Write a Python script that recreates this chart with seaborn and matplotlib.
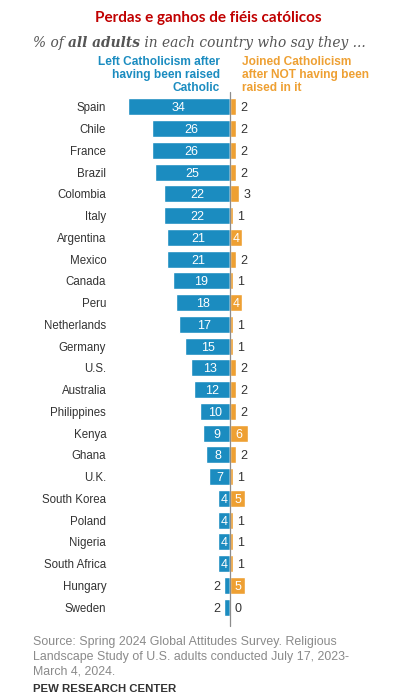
import matplotlib
matplotlib.use("Agg")
import matplotlib.pyplot as plt
import seaborn as sns
import pandas as pd

# ---- data -------------------------------------------------
countries = ["Spain", "Chile", "France", "Brazil", "Colombia", "Italy",
             "Argentina", "Mexico", "Canada", "Peru", "Netherlands",
             "Germany", "U.S.", "Australia", "Philippines", "Kenya",
             "Ghana", "U.K.", "South Korea", "Poland", "Nigeria",
             "South Africa", "Hungary", "Sweden"]
left_pct = [34, 26, 26, 25, 22, 22, 21, 21, 19, 18, 17, 15, 13, 12, 10,
            9, 8, 7, 4, 4, 4, 4, 2, 2]
joined_pct = [2, 2, 2, 2, 3, 1, 4, 2, 1, 4, 1, 1, 2, 2, 2, 6, 2, 1, 5, 1,
              1, 1, 5, 0]

title = "Perdas e ganhos de fiéis católicos"
left_label = "Left Catholicism after\nhaving been raised\nCatholic"
joined_label = "Joined Catholicism\nafter NOT having been\nraised in it"
source = ("Source: Spring 2024 Global Attitudes Survey. Religious\n"
          "Landscape Study of U.S. adults conducted July 17, 2023-\n"
          "March 4, 2024.")

df = pd.DataFrame({"country": countries,
                   "left": [-v for v in left_pct],
                   "joined": joined_pct})

BLUE = "#1b8cc0"
ORANGE = "#eea033"
DARK = "#333333"

W, H = 397, 697
fig = plt.figure(figsize=(W / 100, H / 100), dpi=100)
sns.set_style("white")
plt.rcParams["font.family"] = ["Liberation Sans", "DejaVu Sans"]

# axes placed in pixel terms: zero line at x=230, 3 px per point
ax_l, ax_r = 125, 290
ax_t, ax_b = 96.1, 617.9
ax = fig.add_axes([ax_l / W, 1 - ax_b / H, (ax_r - ax_l) / W, (ax_b - ax_t) / H])

sns.barplot(data=df, x="left", y="country", color=BLUE, width=0.78,
            saturation=1, ax=ax, orient="h")
sns.barplot(data=df, x="joined", y="country", color=ORANGE, width=0.78,
            saturation=1, ax=ax, orient="h")

ax.set_xlim(-(230 - ax_l) / 3, (ax_r - 230) / 3)
ax.set_ylim(len(countries) - 0.5, -0.5)
ax.set_xlabel("")
ax.set_ylabel("")
ax.set_xticks([])
ax.tick_params(axis="y", length=0, pad=13.5, labelsize=8.3, labelcolor=DARK)
sns.despine(ax=ax, left=True, bottom=True)

# value labels
for i, (lv, jv) in enumerate(zip(left_pct, joined_pct)):
    if lv >= 4:
        ax.text(-lv / 2, i, str(lv), ha="center", va="center_baseline",
                color="white", fontsize=9)
    else:
        ax.text(-lv - 1.3, i, str(lv), ha="right", va="center_baseline",
                color=DARK, fontsize=9)
    if jv >= 4:
        ax.text(jv / 2, i, str(jv), ha="center", va="center_baseline",
                color="white", fontsize=9)
    else:
        ax.text(jv + 1.5, i, str(jv), ha="left", va="center_baseline",
                color=DARK, fontsize=9)

# zero line, running a bit past the bars
fig.add_artist(plt.Line2D([230 / W, 230 / W], [1 - 92 / H, 1 - 626 / H],
                          color="#8c8c8c", lw=0.9))

# headers
fig.text(208 / W, 1 - 18 / H, title, ha="center", va="center",
         color="#c00000", fontsize=11, fontweight="bold",
         family=["Lato", "DejaVu Sans"])

# subtitle with a bold part, pieced together
renderer = fig.canvas.get_renderer()
parts = [("% of ", "normal"), ("all adults", "bold"),
         (" in each country who say they ...", "normal")]
x = 33
for txt, wt in parts:
    t = fig.text(x / W, 1 - 43 / H, txt, ha="left", va="center",
                 color="#555555", fontsize=9.9, style="italic",
                 fontweight=wt, family=["DejaVu Serif"])
    x += t.get_window_extent(renderer).width

fig.text(220 / W, 1 - 75 / H, left_label, ha="right", va="center",
         color=BLUE, fontsize=8.6, fontweight="bold", linespacing=1.08)
fig.text(242 / W, 1 - 75 / H, joined_label, ha="left", va="center",
         color=ORANGE, fontsize=8.6, fontweight="bold", linespacing=1.08)

# footer
fig.text(33 / W, 1 - 657 / H, source, ha="left", va="center",
         color="#8a8a8a", fontsize=8.9, linespacing=1.28)
fig.text(33 / W, 1 - 689 / H, "PEW RESEARCH CENTER", ha="left",
         va="center", color=DARK, fontsize=8.2, fontweight="bold")

fig.savefig("out.png", dpi=100)
